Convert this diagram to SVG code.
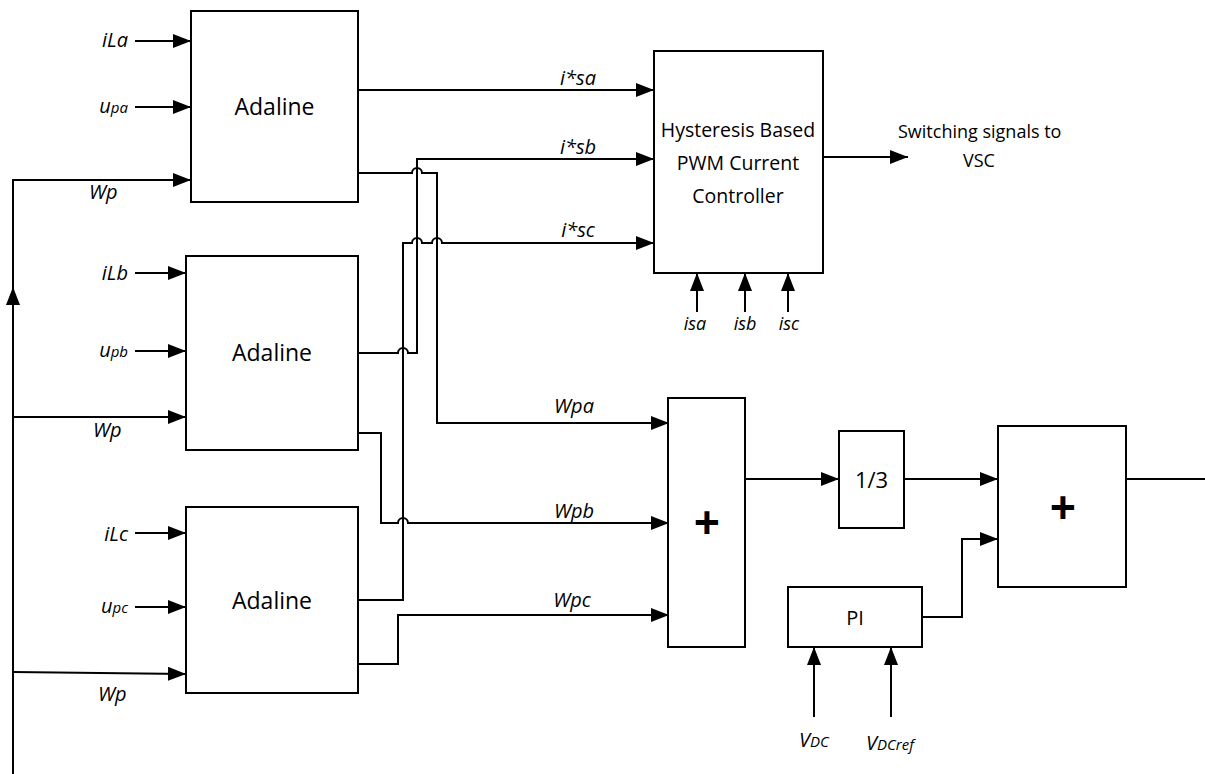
<svg xmlns="http://www.w3.org/2000/svg" width="1205" height="774" viewBox="0 0 1205 774">
<defs>
<marker id="arr" markerUnits="userSpaceOnUse" markerWidth="20" markerHeight="14" refX="18" refY="7" orient="auto">
<path d="M0 0 L18 7 L0 14 Z" fill="#000"/>
</marker>
<style>
.box{fill:#fff;stroke:#000;stroke-width:2}
.ln{fill:none;stroke:#000;stroke-width:2}
.lab{font-family:"Open Sans","Liberation Sans",sans-serif;font-style:italic;font-size:20px;fill:#000}
.sub{font-size:15px}
.blk{font-family:"Open Sans","Liberation Sans",sans-serif;font-size:21px;fill:#000;text-anchor:middle}
.plus{font-family:"Open Sans","Liberation Sans",sans-serif;font-size:46px;font-weight:bold;fill:#000;text-anchor:middle}
</style>
</defs>
<rect width="1205" height="774" fill="#fff"/>

<g id="adaline1">
<rect class="box" x="191" y="11" width="167" height="191"/>
<text class="blk" x="274.5" y="115" style="font-size:23px">Adaline</text>
</g>
<g id="adaline2">
<rect class="box" x="186" y="256" width="172" height="194"/>
<text class="blk" x="272" y="361" style="font-size:23px">Adaline</text>
</g>
<g id="adaline3">
<rect class="box" x="186" y="507" width="172" height="186"/>
<text class="blk" x="272" y="609" style="font-size:23px">Adaline</text>
</g>
<g id="hysteresis">
<rect class="box" x="654" y="51" width="169" height="222"/>
<text class="blk" x="738" y="137" style="font-size:19.5px">Hysteresis Based</text>
<text class="blk" x="738" y="170" style="font-size:19.5px">PWM Current</text>
<text class="blk" x="738" y="203" style="font-size:19.5px">Controller</text>
</g>
<g id="sum1">
<rect class="box" x="668" y="398" width="77" height="249"/>
<text class="plus" x="707" y="539">+</text>
</g>
<g id="third">
<rect class="box" x="839" y="431" width="65" height="97"/>
<text class="blk" x="871.5" y="488" style="font-size:22px">1/3</text>
</g>
<g id="sum2">
<rect class="box" x="998" y="426" width="128" height="161"/>
<text class="plus" x="1063" y="524">+</text>
</g>
<g id="pi">
<rect class="box" x="788" y="587" width="134" height="60"/>
<text class="blk" x="855" y="625" style="font-size:20px">PI</text>
</g>

<g id="connectors">
<path class="ln" d="M135 41 H191" marker-end="url(#arr)"/>
<path class="ln" d="M135 107 H191" marker-end="url(#arr)"/>
<path class="ln" d="M13 774 V180 H191" marker-end="url(#arr)"/>
<path class="ln" d="M13 306 V287" marker-end="url(#arr)"/>
<path class="ln" d="M135 273 H186" marker-end="url(#arr)"/>
<path class="ln" d="M135 351 H186" marker-end="url(#arr)"/>
<path class="ln" d="M13 417 H186" marker-end="url(#arr)"/>
<path class="ln" d="M135 533 H186" marker-end="url(#arr)"/>
<path class="ln" d="M135 607 H186" marker-end="url(#arr)"/>
<path class="ln" d="M13 672 L186 674" marker-end="url(#arr)"/>
<path class="ln" d="M358 90 H654" marker-end="url(#arr)"/>
<path class="ln" d="M358 173 H412 A5 5 0 0 1 422 173 H437 V423 H669" marker-end="url(#arr)"/>
<path class="ln" d="M358 353 H398 A5 5 0 0 1 408 353 H417 V159 H654" marker-end="url(#arr)"/>
<path class="ln" d="M358 433 H381 V523 H398 A5 5 0 0 1 408 523 H669" marker-end="url(#arr)"/>
<path class="ln" d="M358 600 H403 V243 H412 A5 5 0 0 1 422 243 H432 A5 5 0 0 1 442 243 H654" marker-end="url(#arr)"/>
<path class="ln" d="M358 664 H398 V615 H669" marker-end="url(#arr)"/>
<path class="ln" d="M823 157 H908" marker-end="url(#arr)"/>
<path class="ln" d="M697 312 V273" marker-end="url(#arr)"/>
<path class="ln" d="M745 312 V273" marker-end="url(#arr)"/>
<path class="ln" d="M788 312 V273" marker-end="url(#arr)"/>
<path class="ln" d="M745 479 H839" marker-end="url(#arr)"/>
<path class="ln" d="M904 479 H998" marker-end="url(#arr)"/>
<path class="ln" d="M1126 479 H1205"/>
<path class="ln" d="M922 617 H962 V539 H998" marker-end="url(#arr)"/>
<path class="ln" d="M814 717 V647" marker-end="url(#arr)"/>
<path class="ln" d="M891 717 V647" marker-end="url(#arr)"/>
</g>

<g id="labels">
<text class="lab" x="128" y="47" text-anchor="end">iLa</text>
<text class="lab" x="128" y="113" text-anchor="end">u<tspan class="sub">pa</tspan></text>
<text class="lab" x="89" y="199">Wp</text>
<text class="lab" x="128" y="280" text-anchor="end">iLb</text>
<text class="lab" x="128" y="357" text-anchor="end">u<tspan class="sub">pb</tspan></text>
<text class="lab" x="93" y="437">Wp</text>
<text class="lab" x="128" y="541" text-anchor="end">iLc</text>
<text class="lab" x="128" y="613" text-anchor="end">u<tspan class="sub">pc</tspan></text>
<text class="lab" x="98" y="701">Wp</text>
<text class="lab" x="578" y="85" text-anchor="middle">i*sa</text>
<text class="lab" x="578" y="154" text-anchor="middle">i*sb</text>
<text class="lab" x="578" y="237" text-anchor="middle">i*sc</text>
<text class="lab" x="574" y="413" text-anchor="middle">Wpa</text>
<text class="lab" x="574" y="518" text-anchor="middle">Wpb</text>
<text class="lab" x="572" y="607" text-anchor="middle">Wpc</text>
<text class="lab" x="695" y="330" text-anchor="middle" style="font-size:18px">isa</text>
<text class="lab" x="745" y="330" text-anchor="middle" style="font-size:18px">isb</text>
<text class="lab" x="789" y="330" text-anchor="middle" style="font-size:18px">isc</text>
<text class="lab" x="799" y="747">V<tspan class="sub">DC</tspan></text>
<text class="lab" x="866" y="750">V<tspan class="sub">DCref</tspan></text>
<text x="898" y="138" style="font-family:'Open Sans','Liberation Sans',sans-serif;font-size:18px">Switching signals to</text>
<text x="979" y="167" text-anchor="middle" style="font-family:'Open Sans','Liberation Sans',sans-serif;font-size:18px">VSC</text>
</g>
</svg>
